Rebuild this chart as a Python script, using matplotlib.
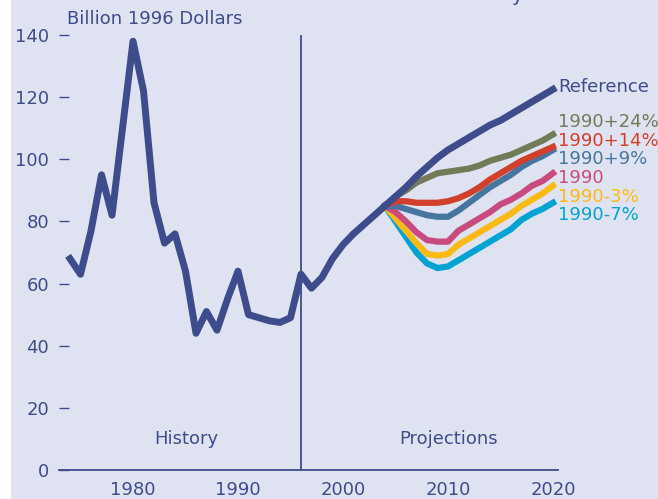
import matplotlib
matplotlib.use("Agg")
import matplotlib.pyplot as plt
from matplotlib.patches import Rectangle

plt.rcParams['font.family'] = ['DejaVu Sans']

# history, billion 1996 dollars
hist_years = list(range(1974, 2005))
hist_vals = [68, 63, 77, 95, 82, 110, 138, 122, 86, 73, 76, 64, 44, 51, 45, 55, 64,
             50, 49, 48, 47.5, 49, 63, 58.5, 62, 68, 72.5, 76, 79, 82, 85]

proj_years = list(range(2004, 2021))
reference = [85, 88, 91, 94.5, 97.5, 100.5, 103, 105, 107, 109, 111, 112.5, 114.5, 116.5, 118.5, 120.5, 122.5]
p24 = [85, 88, 90, 92.5, 94, 95.5, 96, 96.5, 97, 98, 99.5, 100.5, 101.5, 103, 104.5, 106, 108]
p14 = [85, 86.5, 86.5, 86, 86, 86, 86.5, 87.5, 89, 91, 93.5, 95.5, 97.5, 99.5, 101, 102.5, 104]
p9 = [85, 85, 84, 83, 82, 81.5, 81.5, 83.5, 86, 88.5, 91, 93, 95, 97.5, 99.5, 101, 103]
p0 = [85, 83, 80, 76.5, 74, 73.5, 73.5, 77, 79, 81, 83, 85.5, 87, 89, 91.5, 93, 95.5]
m3 = [85, 81, 77, 73, 69.5, 69, 69.5, 72.5, 74.5, 76.5, 78.5, 80.5, 82.5, 85, 87, 89, 91.5]
m7 = [85, 80, 75, 70, 66.5, 65, 65.5, 67.5, 69.5, 71.5, 73.5, 75.5, 77.5, 80.5, 82.5, 84, 86]

cases = ["1990-7%", "1990-3%", "1990", "1990+9%", "1990+14%", "1990+24%"]
case_vals = [m7, m3, p0, p9, p14, p24]
case_colors = ["#00a3d2", "#fdb913", "#c94a7e", "#4676a0", "#d2402b", "#737a58"]
label_y = [82, 88, 94, 100, 106, 112]

navy = "#3e4c8c"
bg = "#dfe3f1"

fig = plt.figure(figsize=(6.58, 4.99), dpi=100, facecolor="white")
fig.patches.append(Rectangle((11 / 658, 0), 1, 1, transform=fig.transFigure,
                             facecolor=bg, edgecolor="none", zorder=-10))

ax = fig.add_axes([59 / 658, 29 / 499, 499 / 658, 435 / 499])
ax.set_facecolor("none")
ax.set_xlim(1972.95, 2020.48)
ax.set_ylim(0, 140)

for vals, c in zip(case_vals, case_colors):
    ax.plot(proj_years, vals, color=c, lw=4.5, clip_on=False)
ax.plot(proj_years, reference, color=navy, lw=5, clip_on=False)
ax.plot(hist_years, hist_vals, color=navy, lw=5, clip_on=False)

ax.plot([1996, 1996], [0, 140], color=navy, lw=1.3)

for s in ["top", "right", "left"]:
    ax.spines[s].set_visible(False)
ax.spines["bottom"].set_color(navy)
ax.spines["bottom"].set_linewidth(1.3)

fs = 13
ax.set_yticks(range(0, 141, 20))
ax.set_xticks([1980, 1990, 2000, 2010, 2020])
ax.tick_params(axis="y", direction="in", length=7, width=1, color=navy,
               labelcolor=navy, labelsize=fs, pad=7)
ax.tick_params(axis="x", length=0, labelcolor=navy, labelsize=fs, pad=8)

ax.text(1973.7, 145.3, "Billion 1996 Dollars", color=navy, fontsize=fs, va="center")
ax.text(1985.05, 10, "History", color=navy, fontsize=fs, ha="center", va="center")
ax.text(2010.1, 10, "Projections", color=navy, fontsize=fs, ha="center", va="center")

ax.text(2020.5, 123.3, "Reference", color=navy, fontsize=fs, va="center")
for name, c, ly in zip(cases, case_colors, label_y):
    ax.text(2020.5, ly, name, color=c, fontsize=fs, va="center")

fig.text(517 / 658, 1 - 1 / 499, "y", color=navy, fontsize=14, ha="center", va="baseline")

fig.savefig("out.png", dpi=100, facecolor=fig.get_facecolor())
